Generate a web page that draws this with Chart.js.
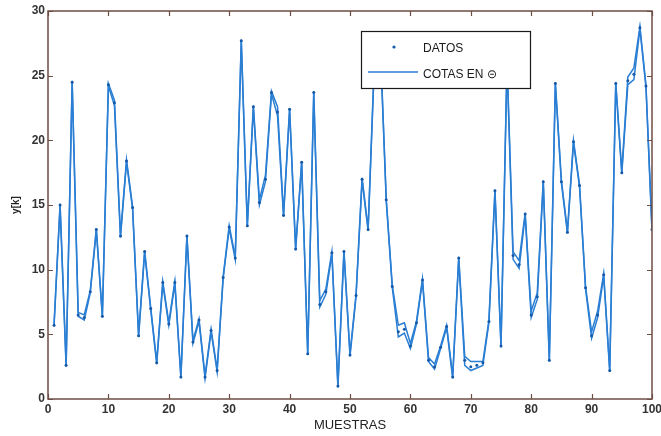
<!DOCTYPE html>
<html>
<head>
<meta charset="utf-8">
<script src="https://cdn.jsdelivr.net/npm/chart.js@4/dist/chart.umd.min.js"></script>
<style>
  html, body { margin: 0; padding: 0; background: #ffffff; }
  #wrap { width: 661px; height: 436px; }
</style>
</head>
<body>
<div id="wrap"><canvas id="c" width="661" height="436"></canvas></div>
<script>
// ---- data ----
const muestras = [1,2,3,4,5,6,7,8,9,10,11,12,13,14,15,16,17,18,19,20,
  21,22,23,24,25,26,27,28,29,30,31,32,33,34,35,36,37,38,39,40,
  41,42,43,44,45,46,47,48,49,50,51,52,53,54,55,56,57,58,59,60,
  61,62,63,64,65,66,67,68,69,70,71,72,73,74,75,76,77,78,79,80,
  81,82,83,84,85,86,87,88,89,90,91,92,93,94,95,96,97,98,99,100];

const datos = [5.7,15.0,2.6,24.5,6.5,6.3,8.3,13.1,6.4,24.3,
  22.9,12.6,18.4,14.8,4.9,11.4,7.0,2.8,9.0,5.8,
  9.0,1.7,12.6,4.4,6.1,1.7,5.3,2.2,9.4,13.3,
  10.9,27.7,13.4,22.6,15.2,17.0,23.7,22.2,14.2,22.4,
  11.6,18.3,3.5,23.7,7.3,8.3,11.3,1.0,11.4,3.4,
  8.0,17.0,13.1,25.6,27.6,15.4,8.7,5.2,5.4,4.1,
  5.9,9.2,3.0,2.5,4.0,5.6,1.7,10.9,3.0,2.5,
  2.6,2.8,6.0,16.1,4.1,26.0,11.1,10.4,14.3,6.5,
  7.9,16.8,3.0,24.4,16.8,12.9,19.9,16.5,8.6,4.9,
  6.5,9.6,2.2,24.4,17.5,24.6,25.1,28.7,24.2,13.1];

const cotaSup = [5.8,15.1,2.7,24.6,6.7,6.5,8.4,13.2,6.5,24.4,
  23.1,12.7,18.5,14.9,5.0,11.5,7.1,2.9,9.1,5.9,
  9.1,1.8,12.7,4.5,6.2,1.8,5.4,2.3,9.5,13.4,
  11.0,27.8,13.5,22.7,15.4,17.3,23.8,22.6,14.3,22.5,
  11.7,18.4,3.6,23.8,7.6,8.5,11.4,1.1,11.5,3.5,
  8.1,17.1,13.2,25.7,27.7,15.5,8.8,5.7,5.9,4.3,
  6.0,9.3,3.2,2.7,4.1,5.7,1.8,11.0,3.3,2.9,
  2.9,2.9,6.1,16.2,4.2,26.1,11.4,10.7,14.4,6.8,
  8.2,16.9,3.1,24.5,16.9,13.0,20.0,16.6,8.7,5.2,
  6.8,9.7,2.3,24.5,17.6,24.9,25.6,28.8,24.3,13.2];

const cotaInf = [5.6,14.9,2.5,24.4,6.4,6.1,8.2,13.0,6.3,24.2,
  22.7,12.5,18.3,14.7,4.8,11.3,6.9,2.7,8.9,5.7,
  8.9,1.6,12.5,4.3,6.0,1.6,5.2,2.1,9.3,13.2,
  10.8,27.6,13.3,22.5,15.0,16.8,23.6,21.9,14.1,22.3,
  11.5,18.2,3.4,23.6,7.1,8.1,11.2,0.9,11.3,3.3,
  7.9,16.9,13.0,25.5,27.5,15.3,8.6,4.8,5.1,3.9,
  5.8,9.1,2.9,2.3,3.9,5.5,1.6,10.8,2.6,2.2,
  2.4,2.6,5.9,16.0,4.0,25.9,10.8,10.1,14.2,6.3,
  7.7,16.7,2.9,24.3,16.7,12.8,19.8,16.4,8.5,4.7,
  6.3,9.5,2.1,24.3,17.4,24.3,24.7,28.6,24.1,13.0];

const xTicksMax = 100;
const yTicksMax = 30;
const etiquetaX = 'MUESTRAS';
const etiquetaY = 'y[k]';
const leyenda = ['DATOS', 'COTAS EN \u229D'];

const pts = arr => arr.map((v, i) => ({ x: muestras[i], y: v }));

const BLUE = '#2a7ed3';
const DOT = '#1559a8';
const FRAME = '#6d4e44';

const framePlugin = {
  id: 'framePlugin',
  afterDraw(chart) {
    const ctx = chart.ctx;
    const { left, right, top, bottom } = chart.chartArea;
    const xs = chart.scales.x, ys = chart.scales.y;
    ctx.save();
    // frame
    ctx.strokeStyle = FRAME;
    ctx.lineWidth = 1.5;
    ctx.strokeRect(left, top, right - left, bottom - top);
    // inner ticks
    ctx.lineWidth = 1.2;
    ctx.beginPath();
    xs.ticks.forEach(t => {
      const p = Math.round(xs.getPixelForValue(t.value)) + 0.5;
      ctx.moveTo(p, bottom); ctx.lineTo(p, bottom - 5);
      ctx.moveTo(p, top); ctx.lineTo(p, top + 5);
    });
    ys.ticks.forEach(t => {
      const p = Math.round(ys.getPixelForValue(t.value)) + 0.5;
      ctx.moveTo(left, p); ctx.lineTo(left + 5, p);
      ctx.moveTo(right, p); ctx.lineTo(right - 5, p);
    });
    ctx.stroke();

    // legend box
    const lx = 361, ly = 31, lw = 169, lh = 57;
    ctx.fillStyle = '#ffffff';
    ctx.fillRect(lx, ly, lw, lh);
    ctx.strokeStyle = '#1a1a1a';
    ctx.lineWidth = 1.2;
    ctx.strokeRect(lx + 0.5, ly + 0.5, lw, lh);
    // entry 1: dot
    ctx.fillStyle = DOT;
    ctx.beginPath();
    ctx.arc(394, 47, 1.6, 0, Math.PI * 2);
    ctx.fill();
    // entry 2: line
    ctx.strokeStyle = BLUE;
    ctx.lineWidth = 1.6;
    ctx.beginPath();
    ctx.moveTo(368, 72); ctx.lineTo(418, 72);
    ctx.stroke();
    ctx.fillStyle = '#1a1a1a';
    ctx.font = '12px "Liberation Sans", Arial, sans-serif';
    ctx.textBaseline = 'middle';
    ctx.textAlign = 'left';
    ctx.fillText(leyenda[0], 423, 49);
    ctx.fillText(leyenda[1], 423, 75);

    // axis titles
    ctx.fillStyle = '#222';
    ctx.font = '13px "Liberation Sans", Arial, sans-serif';
    ctx.textAlign = 'center';
    ctx.fillText(etiquetaX, (left + right) / 2, 425);
    ctx.save();
    ctx.translate(16, (top + bottom) / 2);
    ctx.rotate(-Math.PI / 2);
    ctx.font = 'bold 10px "Liberation Sans", Arial, sans-serif';
    ctx.fillText(etiquetaY, 0, 0);
    ctx.restore();
    ctx.restore();
  }
};

new Chart(document.getElementById('c'), {
  type: 'scatter',
  data: {
    datasets: [
      {
        label: 'cota inferior',
        data: pts(cotaInf),
        showLine: true,
        borderColor: BLUE,
        borderWidth: 1.5,
        pointRadius: 0,
        tension: 0,
        order: 3
      },
      {
        label: 'cota superior',
        data: pts(cotaSup),
        showLine: true,
        borderColor: BLUE,
        borderWidth: 1.5,
        pointRadius: 0,
        tension: 0,
        order: 2
      },
      {
        label: leyenda[0],
        data: pts(datos),
        showLine: false,
        pointRadius: 1.5,
        pointBackgroundColor: DOT,
        pointBorderWidth: 0,
        order: 1
      }
    ]
  },
  options: {
    responsive: false,
    animation: false,
    events: [],
    layout: { padding: { top: 11, right: 9, left: 0, bottom: 0 } },
    plugins: { legend: { display: false }, tooltip: { enabled: false } },
    scales: {
      x: {
        type: 'linear',
        min: 0, max: xTicksMax,
        grid: { display: false, drawTicks: false },
        border: { display: false },
        ticks: {
          stepSize: 10,
          padding: 3,
          color: '#333',
          font: { family: '"Liberation Sans", Arial, sans-serif', size: 12, weight: 'bold' },
          maxRotation: 0
        },
        afterFit(s) { s.height = 37; s.paddingRight = 0; s.paddingLeft = 0; }
      },
      y: {
        min: 0, max: yTicksMax,
        grid: { display: false, drawTicks: false },
        border: { display: false },
        ticks: {
          stepSize: 5,
          padding: 3,
          color: '#333',
          font: { family: '"Liberation Sans", Arial, sans-serif', size: 12, weight: 'bold' }
        },
        afterFit(s) { s.width = 48; s.paddingTop = 0; s.paddingBottom = 0; }
      }
    }
  },
  plugins: [framePlugin]
});
</script>
</body>
</html>
